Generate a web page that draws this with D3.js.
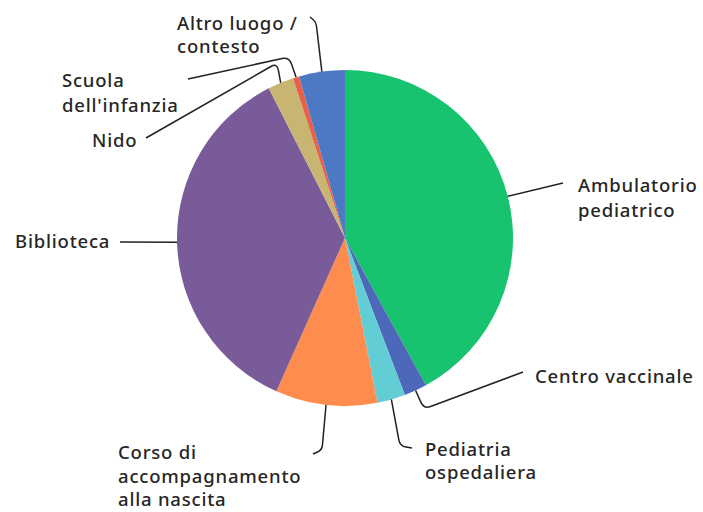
<!DOCTYPE html>
<html><head><meta charset="utf-8">
<script src="https://cdn.jsdelivr.net/npm/d3@7"></script>
<style>html,body{margin:0;padding:0;background:#fff;}svg{display:block;}</style>
</head><body>
<script>
// Data (clockwise from 12 o'clock)
const categories = ["Ambulatorio pediatrico","Centro vaccinale","Pediatria ospedaliera","Corso di accompagnamento alla nascita","Biblioteca","Nido","Scuola dell'infanzia","Altro luogo / contesto"];
const values = [42.0, 2.2, 2.7, 9.8, 35.8, 2.5, 0.6, 4.4];
const labelLines = [["Ambulatorio","pediatrico"],["Centro vaccinale"],["Pediatria","ospedaliera"],["Corso di","accompagnamento","alla nascita"],["Biblioteca"],["Nido"],["Scuola","dell'infanzia"],["Altro luogo /","contesto"]];
const colors = ["#17c36f","#4e68b9","#63cdd6","#ff8c4f","#7a5b99","#c8b572","#e8604a","#4d78c4"];

const W=703,H=512, cx=345, cy=238, R=168;
const svg=d3.select("body").append("svg").attr("width",W).attr("height",H);
const g=svg.append("g").attr("transform",`translate(${cx},${cy})`);
const pie=d3.pie().sort(null).value(d=>d)(values);
const arc=d3.arc().innerRadius(0).outerRadius(R);
g.selectAll("path.s").data(pie).join("path").attr("class","s")
  .attr("d",arc).attr("fill",(d,i)=>colors[i]);

// layout for labels (positions, not data)
const layout=[
  {x:578,y:192,lh:25,elbow:null,end:[563,183]},
  {x:535,y:383,lh:24,elbow:[424,409],end:[523,372]},
  {x:425,y:456,lh:23,elbow:[400,446],end:[412,448]},
  {x:118,y:459,lh:23.5,elbow:[322,450],end:[313,454]},
  {x:15,y:248,lh:24,elbow:null,end:[120,242]},
  {x:92,y:147,lh:24,elbow:[277,63],end:[146,138]},
  {x:62,y:87,lh:25,elbow:[289,57],end:[188,79]},
  {x:177,y:30,lh:23,elbow:[316,22],end:[310,17]}
];
function pt(d){const a=(d.startAngle+d.endAngle)/2;return [cx+R*Math.sin(a),cy-R*Math.cos(a)];}
function leader(s,e,end){
  const p=d3.path(); p.moveTo(s[0],s[1]);
  if(!e){p.lineTo(end[0],end[1]);return p.toString();}
  const r=7;
  const d1=[e[0]-s[0],e[1]-s[1]],l1=Math.hypot(...d1);
  const d2=[end[0]-e[0],end[1]-e[1]],l2=Math.hypot(...d2);
  const rr=Math.min(r,l1/2,l2/2);
  p.lineTo(e[0]-d1[0]/l1*rr,e[1]-d1[1]/l1*rr);
  p.quadraticCurveTo(e[0],e[1],e[0]+d2[0]/l2*rr,e[1]+d2[1]/l2*rr);
  p.lineTo(end[0],end[1]);
  return p.toString();
}
svg.selectAll("path.l").data(pie).join("path").attr("class","l")
  .attr("d",(d,i)=>leader(pt(d),layout[i].elbow,layout[i].end))
  .attr("fill","none").attr("stroke","#222").attr("stroke-width",1.5);
const t=svg.selectAll("text.lab").data(pie).join("text").attr("class","lab")
  .attr("x",(d,i)=>layout[i].x).attr("y",(d,i)=>layout[i].y)
  .attr("font-family","'Noto Sans', sans-serif").attr("font-size",18.5).attr("font-weight",500)
  .attr("letter-spacing","0.8px").attr("fill","#262626");
t.each(function(d,i){
  const el=d3.select(this);
  labelLines[i].forEach((s,k)=>el.append("tspan").attr("x",layout[i].x).attr("dy",k?layout[i].lh:0).text(s));
});
</script>
</body></html>
